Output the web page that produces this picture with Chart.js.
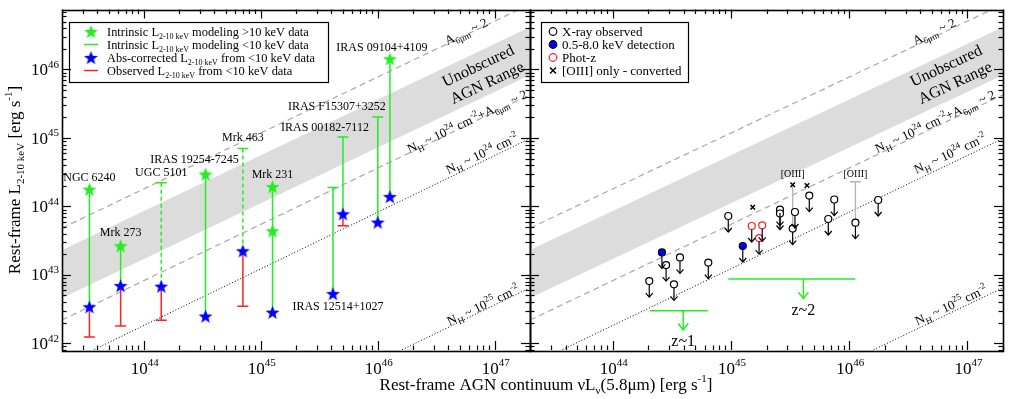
<!DOCTYPE html>
<html>
<head>
<meta charset="utf-8">
<script src="https://cdn.jsdelivr.net/npm/chart.js@4"></script>
<style>
html, body { margin: 0; padding: 0; background: #fff; }
#wrap { position: relative; width: 1024px; height: 399px; }
#wrap canvas { position: absolute; left: 0; top: 0; }
</style>
</head>
<body>
<div id="wrap">
    <canvas id="leftChart" width="1024" height="399"></canvas>
    <canvas id="rightChart" width="1024" height="399"></canvas>
</div>
<script>
const FONT = '"Liberation Serif", "Times New Roman", serif';

// axis ranges and ticks
const xMin = 2e43, xMax = 2e47;
const yMin = 8e41, yMax = 7.5e46;
const xTickValues = [1e44, 1e45, 1e46, 1e47];
const yTickValues = [1e42, 1e43, 1e44, 1e45, 1e46];

// reference relations, values at xMin and xMax
const relL6 = [2e43, 2e47];
const relA6 = [4.83e43, 8.95e46];
const relBandTop = [2.31e43, 4.16e46];
const relBandBottom = [4.59e42, 8.28e45];
const relNH24A6 = [2.19e42, 4.27e45];
const relNH24 = [4.81e41, 9.82e44];
const relNH25 = [3.16e39, 6.49e42];

// left panel: local sources
const objNames = ["NGC 6240", "Mrk 273", "UGC 5101", "IRAS 19254-7245", "Mrk 463", "Mrk 231",
    "IRAS 12514+1027", "IRAS 00182-7112", "IRAS F15307+3252", "IRAS 09104+4109"];
const objL6 = [3.43e43, 6.34e43, 1.41e44, 3.37e44, 7.03e44, 1.26e45, 4.14e45, 5.04e45, 1.0e46, 1.27e46];
const objAbsCorr = [3.42e42, 6.98e42, 6.83e42, 2.50e42, 2.25e43, 2.85e42, 5.33e42, 7.78e43, 5.89e43, 1.39e44];
const objIntrTop = [1.78e44, 2.66e43, 2.22e44, 2.97e44, 7.03e44, 1.94e44, 1.88e44, 1.03e45, 2.02e45, 1.43e46];
const objIntrDashed = [false, false, true, false, true, false, false, false, false, false];
const objIntrCap = [false, false, true, false, true, false, true, true, true, false];
const objObsLow = [1.24e42, 1.79e42, 2.18e42, null, 3.49e42, null, null, 5.2e43, null, null];
const hardL6 = [3.43e43, 6.34e43, 3.37e44, 1.26e45, 1.26e45, 1.27e46];
const hardLx = [1.78e44, 2.66e43, 2.97e44, 1.94e44, 4.40e43, 1.43e46];

// label placement for the left panel (pixel offsets from the top of each bar)
const objLabelAnchorLow = [false, false, false, false, false, false, true, false, false, false];
const objLabelOffset = [[0, -11], [0, -13], [0, -10], [-11, -14], [0, -11], [0, -12],
    [5, 13], [-18, -9], [-41, -10], [-8, -11]];

// right panel: high-z sources (upper limits)
const xrayL6 = [2.04e44, 2.83e44, 3.30e44, 3.71e44, 6.44e44, 9.5e44, 2.60e45, 2.60e45,
    3.48e45, 3.33e45, 4.60e45, 7.48e45, 6.66e45, 1.13e46, 1.76e46];
const xrayLx = [8.13e42, 1.39e43, 7.28e42, 1.80e43, 1.51e43, 7.24e43, 9.0e43, 7.87e43,
    8.28e43, 4.75e43, 1.44e44, 1.26e44, 6.55e43, 5.78e43, 1.24e44];
const detL6 = [2.61e44, 1.26e45];
const detLx = [2.13e43, 2.64e43];
const photzL6 = [1.50e45, 1.84e45, 1.73e45];
const photzLx = [5.17e43, 5.29e43, 3.45e43];
const oiiiL6 = [1.53e45, 3.33e45, 4.40e45];
const oiiiLx = [9.7e43, 2.07e44, 2.02e44];
const oiiiLinkL6 = [3.33e45, 1.13e46];
const oiiiLinkTop = [2.07e44, 2.29e44];
const oiiiLinkBottom = [4.75e43, 5.78e43];
const oiiiLinkCap = [false, true];

// stacked redshift bins
const zBinLabels = ["z~1", "z~2"];
const zBinL6Lo = [2.07e44, 9.5e44];
const zBinL6Hi = [6.37e44, 1.13e46];
const zBinL6Mid = [3.95e44, 4.1e45];
const zBinLx = [3.0e42, 8.7e42];
const zBinLxTip = [1.57e42, 4.5e42];

const GREEN = "#22ee22", BLUE = "#0000ff", RED = "#ff2020";

// rich text pieces: [text, "" | "sub" | "sup"]
const L210 = [["L", ""], ["2-10 keV", "sub"]];
const txtA6 = [["A", ""], ["6μm", "sub"], [" ~ 2", ""]];
const txtNH24A6 = [["N", ""], ["H", "sub"], [" ~ 10", ""], ["24", "sup"], [" cm", ""], ["-2", "sup"], ["+A", ""], ["6μm", "sub"], [" ~ 2", ""]];
const txtNH24 = [["N", ""], ["H", "sub"], [" ~ 10", ""], ["24", "sup"], [" cm", ""], ["-2", "sup"]];
const txtNH25 = [["N", ""], ["H", "sub"], [" ~ 10", ""], ["25", "sup"], [" cm", ""], ["-2", "sup"]];
const lineLabelText = [txtA6, [["Unobscured", ""]], [["AGN Range", ""]], txtNH24A6, txtNH24, txtNH25];
const lineLabelPos = [[404, 22], [416, 56], [425, 73], [405, 112], [420, 144], [421, 295.5]];
const lineLabelSize = [13, 16, 16, 13, 13, 13];

const leftLegendText = [
    [["Intrinsic ", ""], ...L210, [" modeling >10 keV data", ""]],
    [["Intrinsic ", ""], ...L210, [" modeling <10 keV data", ""]],
    [["Abs-corrected ", ""], ...L210, [" from <10 keV data", ""]],
    [["Observed ", ""], ...L210, [" from <10 keV data", ""]]
];
const rightLegendText = ["X-ray observed", "0.5-8.0 keV detection", "Phot-z", "[OIII] only - converted"];

function drawRich(ctx, parts, x, cy, size, align) {
    const sm = Math.round(size * 0.66);
    let w = 0;
    for (const [t, k] of parts) {
        ctx.font = (k ? sm : size) + "px " + FONT;
        w += ctx.measureText(t).width;
    }
    let cx = align === "center" ? x - w / 2 : (align === "right" ? x - w : x);
    const base = cy + size * 0.33;
    ctx.textAlign = "left";
    ctx.textBaseline = "alphabetic";
    for (const [t, k] of parts) {
        ctx.font = (k ? sm : size) + "px " + FONT;
        const dy = k === "sub" ? size * 0.25 : (k === "sup" ? -size * 0.42 : 0);
        ctx.fillText(t, cx, base + dy);
        cx += ctx.measureText(t).width;
    }
}

function makeStar(color, r) {
    const c = document.createElement("canvas");
    const s = Math.ceil(r * 2) + 2;
    c.width = s;
    c.height = s;
    const g = c.getContext("2d");
    g.translate(s / 2, s / 2 + 0.8);
    g.beginPath();
    for (let i = 0; i < 10; i++) {
        const rr = i % 2 ? r * 0.42 : r;
        const a = -Math.PI / 2 + i * Math.PI / 5;
        g.lineTo(rr * Math.cos(a), rr * Math.sin(a));
    }
    g.closePath();
    g.fillStyle = color;
    g.fill();
    return c;
}

const greenStar = makeStar(GREEN, 7.3);
const blueStar = makeStar(BLUE, 7.3);

function seg(ctx, x0, y0, x1, y1) {
    ctx.beginPath();
    ctx.moveTo(x0, y0);
    ctx.lineTo(x1, y1);
    ctx.stroke();
}

function chevron(ctx, x, tipY, hw, h) {
    ctx.beginPath();
    ctx.moveTo(x - hw, tipY - h);
    ctx.lineTo(x, tipY);
    ctx.lineTo(x + hw, tipY - h);
    ctx.stroke();
}

function relationDatasets() {
    const pts = arr => relL6.map((x, i) => ({ x: x, y: arr[i] }));
    return [
        { data: pts(relBandTop), borderWidth: 0, pointRadius: 0, fill: "+1", backgroundColor: "#dcdcdc", order: 40 },
        { data: pts(relBandBottom), borderWidth: 0, pointRadius: 0, fill: false, order: 40 },
        { data: pts(relA6), borderColor: "#a8a8a8", borderWidth: 1.2, borderDash: [6, 4], pointRadius: 0, order: 30 },
        { data: pts(relNH24A6), borderColor: "#a8a8a8", borderWidth: 1.2, borderDash: [6, 4], pointRadius: 0, order: 30 },
        { data: pts(relNH24), borderColor: "#000", borderWidth: 1, borderDash: [1, 2], pointRadius: 0, order: 30 },
        { data: pts(relNH25), borderColor: "#000", borderWidth: 1, borderDash: [1, 2], pointRadius: 0, order: 30 }
    ];
}

function barDataset(x, y0, y1, color, dashed, capTop, capBottom, width) {
    return {
        data: [{ x: x, y: y0 }, { x: x, y: y1 }],
        borderColor: color,
        borderWidth: width || 1.5,
        borderDash: dashed ? [4, 3] : [],
        pointStyle: "line",
        pointRadius: [capTop ? 5.5 : 0, capBottom ? 5.5 : 0],
        pointBorderColor: color,
        pointBorderWidth: width || 1.5,
        order: 20
    };
}

function leftDatasets() {
    const sets = relationDatasets();
    objL6.forEach((x, i) => {
        sets.push(barDataset(x, objIntrTop[i], objAbsCorr[i], GREEN, objIntrDashed[i], objIntrCap[i], false));
        if (objObsLow[i] !== null) {
            sets.push(barDataset(x, objAbsCorr[i], objObsLow[i], RED, false, false, true));
        }
    });
    sets.push({
        data: objL6.map((x, i) => ({ x: x, y: objAbsCorr[i] })),
        showLine: false, pointStyle: blueStar, pointRadius: 7, order: 2
    });
    sets.push({
        data: hardL6.map((x, i) => ({ x: x, y: hardLx[i] })),
        showLine: false, pointStyle: greenStar, pointRadius: 7, order: 1
    });
    return sets;
}

function circleSet(xs, ys, fill, stroke, order) {
    return {
        data: xs.map((x, i) => ({ x: x, y: ys[i] })),
        showLine: false, pointStyle: "circle", pointRadius: 3.5,
        pointBackgroundColor: fill, pointBorderColor: stroke, pointBorderWidth: 1.2,
        upperLimit: true, order: order
    };
}

function rightDatasets() {
    const sets = relationDatasets();
    oiiiLinkL6.forEach((x, i) => {
        sets.push(barDataset(x, oiiiLinkTop[i], oiiiLinkBottom[i], "#b4b4b4", false, oiiiLinkCap[i], false, 1.3));
    });
    zBinLabels.forEach((lab, i) => {
        sets.push({
            data: [{ x: zBinL6Lo[i], y: zBinLx[i] }, { x: zBinL6Hi[i], y: zBinLx[i] }],
            borderColor: GREEN, borderWidth: 1.5, pointRadius: 0, order: 20
        });
        sets.push({
            data: [{ x: zBinL6Mid[i], y: zBinLx[i] }, { x: zBinL6Mid[i], y: zBinLxTip[i] }],
            borderColor: GREEN, borderWidth: 1.5, pointRadius: 0, order: 20, arrowHead: true, binLabel: lab
        });
    });
    sets.push(circleSet(xrayL6, xrayLx, "#fff", "#000", 3));
    sets.push(circleSet(detL6, detLx, BLUE, "#000", 2));
    sets.push(circleSet(photzL6, photzLx, "#fff", RED, 2));
    sets.push({
        data: oiiiL6.map((x, i) => ({ x: x, y: oiiiLx[i] })),
        showLine: false, pointStyle: "crossRot", pointRadius: 3.2,
        pointBorderColor: "#000", pointBorderWidth: 1.5, order: 1
    });
    return sets;
}

function drawFrame(chart, withYLabels) {
    const ctx = chart.ctx, a = chart.chartArea;
    const xs = chart.scales.x, ys = chart.scales.y;
    ctx.save();
    ctx.strokeStyle = "#000";
    ctx.fillStyle = "#000";
    ctx.lineWidth = 1.2;
    for (let e = 41; e <= 46; e++) {
        for (let m = 1; m <= 9; m++) {
            const v = m * Math.pow(10, e);
            if (v < yMin || v > yMax) continue;
            const py = Math.round(ys.getPixelForValue(v)) + 0.5;
            const len = m === 1 ? 9 : 4.5;
            seg(ctx, a.left, py, a.left + len, py);
            seg(ctx, a.right, py, a.right - len, py);
        }
    }
    for (let e = 43; e <= 47; e++) {
        for (let m = 1; m <= 9; m++) {
            const v = m * Math.pow(10, e);
            if (v < xMin || v > xMax) continue;
            const px = Math.round(xs.getPixelForValue(v)) + 0.5;
            const len = m === 1 ? 9 : 4.5;
            seg(ctx, px, a.bottom, px, a.bottom - len);
            seg(ctx, px, a.top, px, a.top + len);
        }
    }
    ctx.lineWidth = 1.6;
    ctx.strokeRect(Math.round(a.left) + 0.5, Math.round(a.top) + 0.5,
        Math.round(a.right - a.left), Math.round(a.bottom - a.top));

    xTickValues.forEach(v => {
        const px = xs.getPixelForValue(v);
        drawRich(ctx, [["10", ""], [String(Math.round(Math.log10(v))), "sup"]], px + 1, 368, 17, "center");
    });
    if (withYLabels) {
        yTickValues.forEach(v => {
            const py = ys.getPixelForValue(v);
            drawRich(ctx, [["10", ""], [String(Math.round(Math.log10(v))), "sup"]], 59, py, 17, "right");
        });
    }
    ctx.restore();
}

function drawLineLabels(chart) {
    const ctx = chart.ctx, a = chart.chartArea;
    const x0 = chart.scales.x.getPixelForValue(relL6[0]), x1 = chart.scales.x.getPixelForValue(relL6[1]);
    const y0 = chart.scales.y.getPixelForValue(relBandTop[0]), y1 = chart.scales.y.getPixelForValue(relBandTop[1]);
    const ang = Math.atan2(y1 - y0, x1 - x0);
    ctx.save();
    ctx.fillStyle = "#000";
    lineLabelText.forEach((parts, i) => {
        ctx.save();
        ctx.translate(a.left + lineLabelPos[i][0], a.top + lineLabelPos[i][1]);
        ctx.rotate(ang);
        drawRich(ctx, parts, 0, 0, lineLabelSize[i], "center");
        ctx.restore();
    });
    ctx.restore();
}

const leftDecor = {
    id: "leftDecor",
    afterDatasetsDraw(chart) {
        const ctx = chart.ctx;
        const xs = chart.scales.x, ys = chart.scales.y;
        drawLineLabels(chart);
        ctx.save();
        ctx.fillStyle = "#000";
        ctx.font = "12px " + FONT;
        ctx.textAlign = "center";
        ctx.textBaseline = "middle";
        objNames.forEach((name, i) => {
            const px = xs.getPixelForValue(objL6[i]);
            const py = ys.getPixelForValue(objLabelAnchorLow[i] ? objAbsCorr[i] : objIntrTop[i]);
            ctx.fillText(name, px + objLabelOffset[i][0], py + objLabelOffset[i][1]);
        });

        // legend
        ctx.fillStyle = "#fff";
        ctx.fillRect(69.5, 22.5, 259, 60);
        ctx.strokeStyle = "#000";
        ctx.lineWidth = 1.2;
        ctx.strokeRect(69.5, 22.5, 259, 60);
        const rows = [31.5, 44.5, 57.5, 70.5];
        ctx.drawImage(greenStar, 91 - greenStar.width / 2, rows[0] - greenStar.height / 2);
        ctx.drawImage(blueStar, 91 - blueStar.width / 2, rows[2] - blueStar.height / 2);
        ctx.lineWidth = 1.5;
        ctx.strokeStyle = GREEN;
        seg(ctx, 84, rows[1], 98, rows[1]);
        ctx.strokeStyle = RED;
        seg(ctx, 84, rows[3], 98, rows[3]);
        ctx.fillStyle = "#000";
        leftLegendText.forEach((parts, i) => drawRich(ctx, parts, 107, rows[i], 12.4, "left"));

        // axis titles
        drawRich(ctx, [["Rest-frame AGN continuum νL", ""], ["ν", "sub"], ["(5.8μm) [erg s", ""], ["-1", "sup"], ["]", ""]],
            546, 384, 17, "center");
        ctx.save();
        ctx.translate(14, 180);
        ctx.rotate(-Math.PI / 2);
        drawRich(ctx, [["Rest-frame ", ""], ...L210, [" [erg s", ""], ["-1", "sup"], ["]", ""]], 0, 0, 17, "center");
        ctx.restore();
        ctx.restore();
        drawFrame(chart, true);
    }
};

const rightDecor = {
    id: "rightDecor",
    afterDatasetsDraw(chart) {
        const ctx = chart.ctx;
        const xs = chart.scales.x, ys = chart.scales.y;
        drawLineLabels(chart);
        ctx.save();
        ctx.strokeStyle = "#000";
        ctx.lineWidth = 1.2;
        chart.data.datasets.forEach((ds, i) => {
            const meta = chart.getDatasetMeta(i);
            if (ds.upperLimit) {
                ctx.strokeStyle = "#000";
                ctx.lineWidth = 1.2;
                meta.data.forEach(pt => {
                    seg(ctx, pt.x, pt.y + 3.5, pt.x, pt.y + 16);
                    chevron(ctx, pt.x, pt.y + 16, 3.5, 4);
                });
            }
            if (ds.arrowHead) {
                const tip = meta.data[meta.data.length - 1];
                ctx.strokeStyle = ds.borderColor;
                ctx.lineWidth = 1.5;
                chevron(ctx, tip.x, tip.y, 5, 6.5);
                ctx.fillStyle = "#000";
                ctx.font = "16px " + FONT;
                ctx.textAlign = "center";
                ctx.textBaseline = "middle";
                ctx.fillText(ds.binLabel, tip.x, tip.y + 12);
            }
        });
        ctx.fillStyle = "#000";
        ctx.font = "10px " + FONT;
        ctx.textAlign = "center";
        ctx.textBaseline = "middle";
        oiiiLinkL6.forEach((x, i) => {
            ctx.fillText("[OIII]", xs.getPixelForValue(x), ys.getPixelForValue(oiiiLinkTop[i]) - (oiiiLinkCap[i] ? 7 : 10));
        });

        // legend
        ctx.fillStyle = "#fff";
        ctx.fillRect(541.5, 22.5, 147, 60);
        ctx.strokeStyle = "#000";
        ctx.lineWidth = 1.2;
        ctx.strokeRect(541.5, 22.5, 147, 60);
        const rows = [31.5, 44.5, 57.5, 70.5];
        const icon = (y, fill, stroke) => {
            ctx.beginPath();
            ctx.arc(553, y, 3.8, 0, Math.PI * 2);
            ctx.fillStyle = fill;
            ctx.fill();
            ctx.strokeStyle = stroke;
            ctx.lineWidth = 1.2;
            ctx.stroke();
        };
        icon(rows[0], "#fff", "#000");
        icon(rows[1], BLUE, "#000");
        icon(rows[2], "#fff", RED);
        ctx.strokeStyle = "#000";
        ctx.lineWidth = 1.5;
        seg(ctx, 550, rows[3] - 3, 556, rows[3] + 3);
        seg(ctx, 550, rows[3] + 3, 556, rows[3] - 3);
        ctx.fillStyle = "#000";
        rightLegendText.forEach((t, i) => drawRich(ctx, [[t, ""]], 562, rows[i], 13, "left"));
        ctx.restore();
        drawFrame(chart, false);
    }
};

function makeChart(id, datasets, padding, plugin) {
    return new Chart(document.getElementById(id), {
        type: "line",
        data: { datasets: datasets },
        options: {
            responsive: false,
            animation: false,
            events: [],
            layout: { padding: padding },
            plugins: { legend: { display: false }, tooltip: { enabled: false } },
            scales: {
                x: { type: "logarithmic", min: xMin, max: xMax, display: false },
                y: { type: "logarithmic", min: yMin, max: yMax, display: false }
            }
        },
        plugins: [plugin]
    });
}

makeChart("leftChart", leftDatasets(), { left: 62, right: 494, top: 9.5, bottom: 49 }, leftDecor);
makeChart("rightChart", rightDatasets(), { left: 530, right: 21, top: 9.5, bottom: 49 }, rightDecor);
</script>
</body>
</html>
